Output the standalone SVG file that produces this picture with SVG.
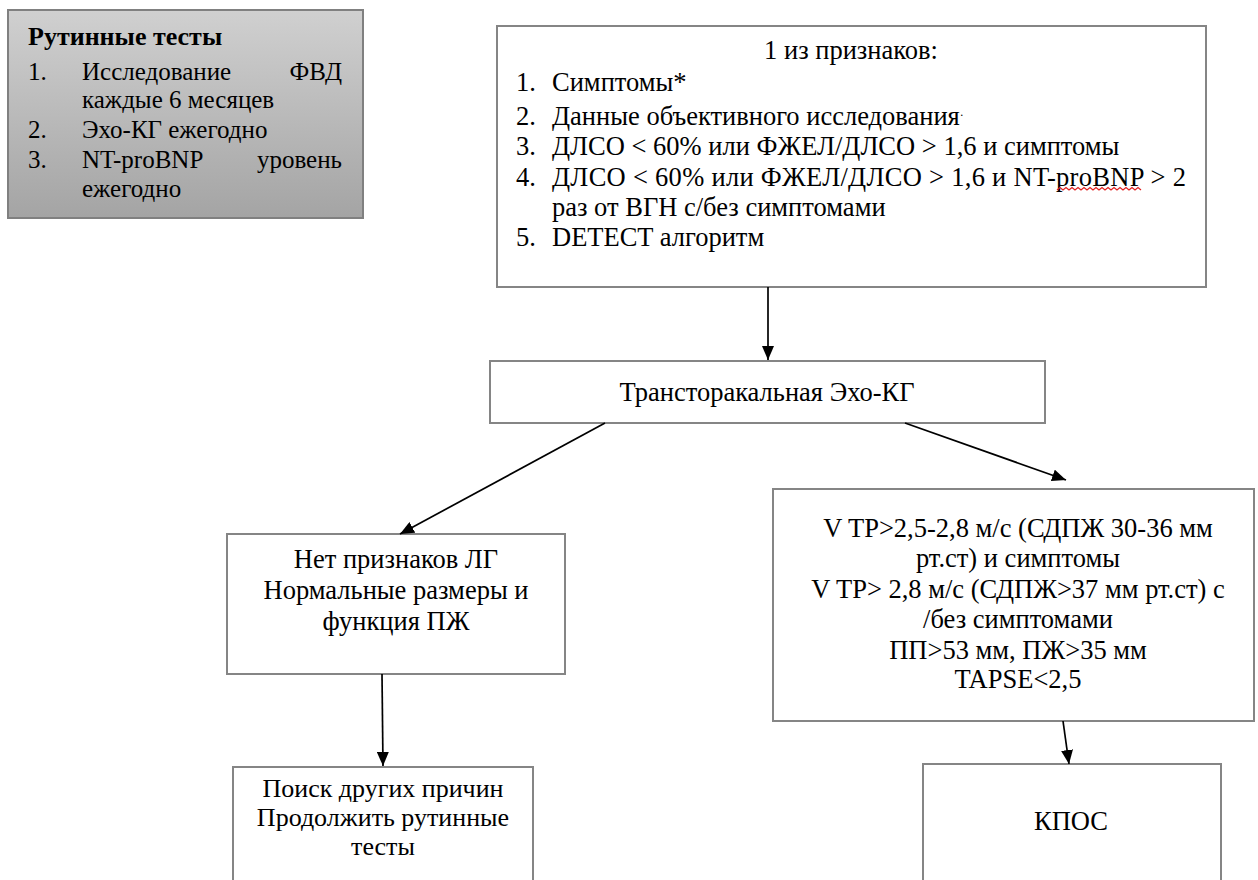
<svg xmlns="http://www.w3.org/2000/svg" width="1258" height="880" viewBox="0 0 1258 880">
<defs>
<linearGradient id="grey" x1="0" y1="0" x2="0" y2="1">
<stop offset="0" stop-color="#d0d0d0"/>
<stop offset="1" stop-color="#a4a4a4"/>
</linearGradient>
<marker id="ah" markerWidth="14" markerHeight="12" refX="14" refY="6" orient="auto" markerUnits="userSpaceOnUse">
<path d="M0,0 L14,6 L0,12 Z" fill="#000"/>
</marker>
<style>
.box{fill:#fff;stroke:#858585;stroke-width:2}
.t{font-size:26.5px;fill:#000}
.g{font-size:25px}
.s{font-size:26px}
.c{text-anchor:middle}
.b{font-weight:bold}
.e{text-anchor:end}
.conn{stroke:#000;stroke-width:1.7;fill:none;marker-end:url(#ah)}
</style>
</defs>
<rect width="1258" height="880" fill="#fff"/>
<g font-family="Liberation Serif, Tinos, Times New Roman, DejaVu Serif, serif">
<g id="routine">
<rect x="8" y="10" width="355" height="208" fill="url(#grey)" stroke="#808080" stroke-width="2"/>
<text class="t s b" x="28" y="45">Рутинные тесты</text>
<text class="t g" x="28" y="80">1.</text>
<text class="t g" x="82" y="80">Исследование</text>
<text class="t g e" x="342" y="80">ФВД</text>
<text class="t g" x="82" y="108">каждые 6 месяцев</text>
<text class="t g" x="28" y="138">2.</text>
<text class="t g" x="82" y="138">Эхо-КГ ежегодно</text>
<text class="t g" x="28" y="168">3.</text>
<text class="t g" x="82" y="168">NT-proBNP</text>
<text class="t g e" x="342" y="168">уровень</text>
<text class="t g" x="82" y="197">ежегодно</text>
</g>

<g id="criteria">
<rect class="box" x="497" y="26" width="709" height="261"/>
<text class="t c" x="851" y="59">1 из признаков:</text>
<text class="t" x="516" y="91">1.</text>
<text class="t" x="552" y="91">Симптомы*</text>
<text class="t" x="516" y="125">2.</text>
<text class="t" x="552" y="125">Данные объективного исследования<tspan font-size="12" dy="-6">·</tspan></text>
<text class="t" x="516" y="155">3.</text>
<text class="t" x="552" y="155">ДЛСО &lt; 60% или ФЖЕЛ/ДЛСО &gt; 1,6 и симптомы</text>
<text class="t" x="516" y="186">4.</text>
<text class="t" x="552" y="186" textLength="634" lengthAdjust="spacing">ДЛСО &lt; 60% или ФЖЕЛ/ДЛСО &gt; 1,6  и NT-proBNP &gt; 2</text>
<path d="M1057,190 l3,-2.5 l3,2.5 l3,-2.5 l3,2.5 l3,-2.5 l3,2.5 l3,-2.5 l3,2.5 l3,-2.5 l3,2.5 l3,-2.5 l3,2.5 l3,-2.5 l3,2.5 l3,-2.5 l3,2.5 l3,-2.5 l3,2.5 l3,-2.5 l3,2.5 l3,-2.5 l3,2.5 l3,-2.5 l3,2.5 l3,-2.5 l3,2.5 l3,-2.5 l3,2.5" fill="none" stroke="#e02020" stroke-width="1.2"/>
<text class="t" x="552" y="216">раз от ВГН с/без симптомами</text>
<text class="t" x="516" y="246">5.</text>
<text class="t" x="552" y="246">DETECT алгоритм</text>
</g>

<g id="echo">
<rect class="box" x="490" y="361" width="555" height="62"/>
<text class="t c" x="767" y="401">Трансторакальная Эхо-КГ</text>
</g>

<g id="normal">
<rect class="box" x="227" y="534" width="338" height="140"/>
<text class="t c" x="396" y="568">Нет признаков ЛГ</text>
<text class="t c" x="396" y="599">Нормальные размеры и</text>
<text class="t c" x="396" y="630">функция ПЖ</text>
</g>

<g id="signs">
<rect class="box" x="773" y="489" width="481" height="232"/>
<text class="t c" x="1018" y="537">V TP&gt;2,5-2,8 м/с (СДПЖ 30-36 мм</text>
<text class="t c" x="1018" y="567">рт.ст) и симптомы</text>
<text class="t c" x="1018" y="598">V TP&gt; 2,8 м/с (СДПЖ&gt;37 мм рт.ст) с</text>
<text class="t c" x="1018" y="628">/без симптомами</text>
<text class="t c" x="1018" y="659">ПП&gt;53 мм, ПЖ&gt;35 мм</text>
<text class="t c" x="1018" y="688">TAPSE&lt;2,5</text>
</g>

<g id="other">
<rect class="box" x="233" y="767" width="300" height="130"/>
<text class="t s c" x="383" y="797">Поиск других причин</text>
<text class="t s c" x="383" y="826">Продолжить рутинные</text>
<text class="t s c" x="383" y="855">тесты</text>
</g>

<g id="kpos">
<rect class="box" x="923" y="764" width="298" height="130"/>
<text class="t c" x="1071" y="830">КПОС</text>
</g>
</g>
<g id="connectors">
<line class="conn" x1="768" y1="287" x2="768" y2="360"/>
<line class="conn" x1="605" y1="423" x2="400" y2="534"/>
<line class="conn" x1="905" y1="423" x2="1066" y2="480"/>
<line class="conn" x1="382" y1="674" x2="383" y2="766"/>
<line class="conn" x1="1063" y1="721" x2="1069" y2="764"/>
</g>
</svg>
